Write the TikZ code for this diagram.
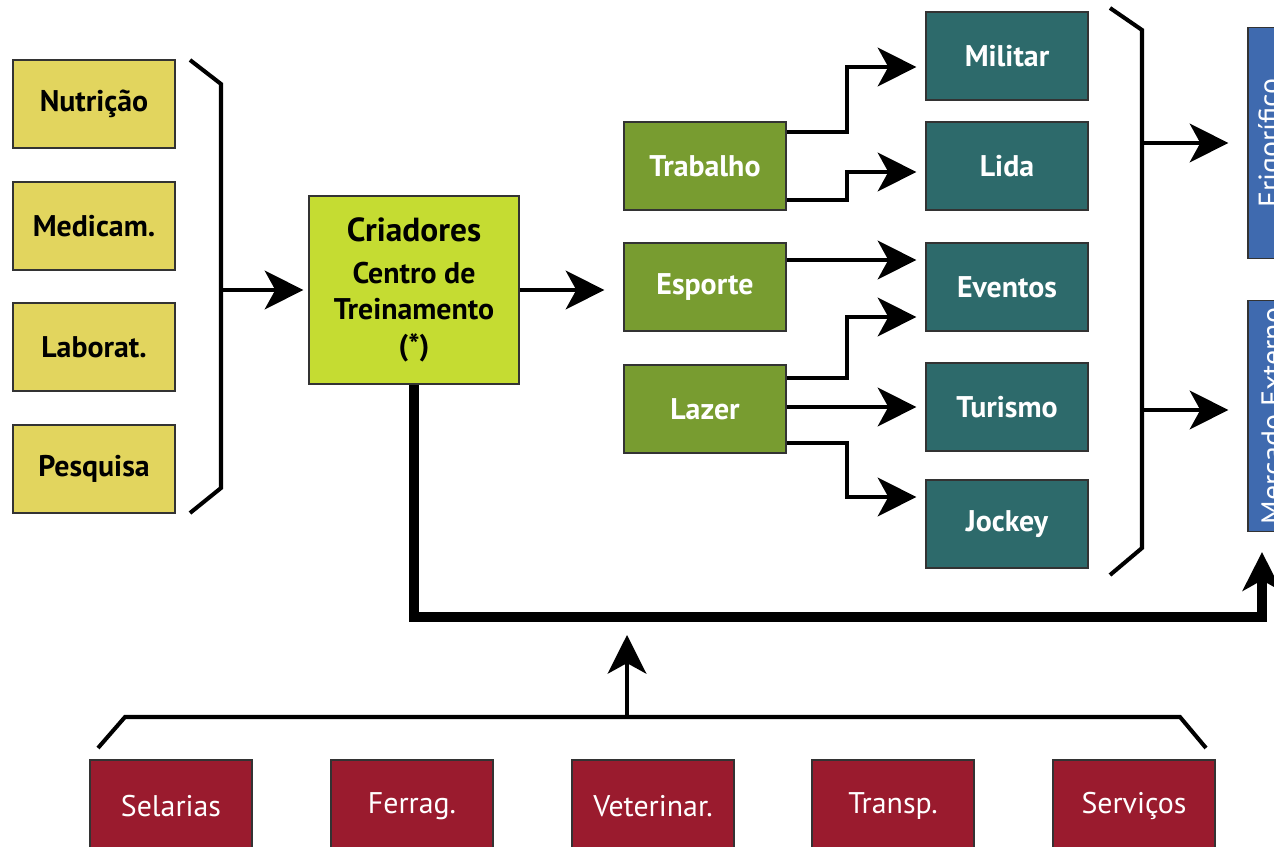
\documentclass[tikz,border=0pt]{standalone}
\usepackage{fontspec}
\setmainfont{PT Sans}
\usetikzlibrary{arrows.meta}
\definecolor{amar}{HTML}{E2D55E}
\definecolor{lima}{HTML}{C5DC32}
\definecolor{verde}{HTML}{789C30}
\definecolor{petro}{HTML}{2D6A6B}
\definecolor{azul}{HTML}{3F6AAF}
\definecolor{vinho}{HTML}{9A1B2E}
\begin{document}
\begin{tikzpicture}[x=0.02cm,y=-0.02cm,>={Stealth[length=22pt,width=22pt,inset=6pt]},
		font=\fontsize{17}{20}\selectfont,
		caixa/.style={draw=black!80,line width=.7pt,minimum width=3.24cm,minimum height=1.76cm,align=center,inner sep=2pt},
		br/.style={line width=2.3pt},
		seta/.style={->,line width=2.3pt}]
	\clip (0,0) rectangle (1274,847);
	%===========================================
	\foreach \t/\y [count=\i] in {Nutrição/104,Medicam./226,Laborat./347,Pesquisa/469}
		\node[caixa,fill=amar,font=\fontsize{17}{20}\selectfont\bfseries] (a\i) at (94,\y) {\t};
	\node[caixa,fill=lima,minimum width=4.2cm,minimum height=3.76cm,font=\fontsize{17}{20.5}\selectfont\bfseries] (crt) at (414,290)
		{{\fontsize{19}{22}\selectfont Criadores}\\[3pt]Centro de\\Treinamento\\(*)};
	\foreach \t/\n/\y in {Trabalho/trab/166,Esporte/esp/287,Lazer/laz/409}
		\node[caixa,fill=verde,text=white,font=\fontsize{17}{20}\selectfont\bfseries] (\n) at (705,\y) {\t};
	\foreach \t/\n/\y in {Militar/mil/56,Lida/lid/166,Eventos/eve/287,Turismo/tur/407,Jockey/joc/524}
		\node[caixa,fill=petro,text=white,font=\fontsize{17}{20}\selectfont\bfseries] (\n) at (1007,\y) {\t};
	\node[caixa,fill=azul,text=white,rotate=90,minimum width=4.62cm,minimum height=.96cm] (frig) at (1272,143) {Frigorífico};
	\node[caixa,fill=azul,text=white,rotate=90,minimum width=4.62cm,minimum height=.96cm] (mex) at (1272,416) {Mercado Externo};
	\foreach \t/\x [count=\i] in {Selarias/171,Ferrag./412,Veterinar./653,Transp./893,Serviços/1134}
		\node[caixa,fill=vinho,text=white,minimum height=1.84cm] (s\i) at (\x,806) {\t};
	%===========================================
	\draw[br] (190,60) -- (221,84) -- (221,488) -- (190,513);
	\draw[br] (1110,8) -- (1142,30) -- (1142,548) -- (1110,575);
	\draw[br] (98,748) -- (125,717) -- (1180,717) -- (1206,748);
	\coordinate (lb) at (221,290);
	\coordinate (rb1) at (1142,143);
	\coordinate (rb2) at (1142,410);
	\coordinate (bb) at (627,717);
	\coordinate (turn) at (1262,617);
	%===========================================
	\draw[seta,shorten >=0.1cm] (lb) -- (crt.west |- lb);
	\draw[seta,shorten >=0.38cm] (crt.east |- 0,290) -- (esp.west |- 0,290);
	\foreach \a/\ya/\b/\yb in {trab/132/mil/67,trab/200/lid/172,esp/260/eve/260,laz/378/eve/317,laz/407/tur/407,laz/443/joc/497}
		\draw[seta,shorten >=0.18cm] (\a.east |- 0,\ya) -| (847,\yb) -- (\b.west |- 0,\yb);
	\draw[seta,shorten >=0.38cm] (rb1) -- (frig.north |- rb1);
	\draw[seta,shorten >=0.38cm] (rb2) -- (mex.north |- rb2);
	\draw[->,line width=5.7pt,shorten >=0.4cm] (crt.south) |- (turn) -- (turn |- mex.west);
	\draw[seta,shorten >=0.36cm] (bb) -- (bb |- turn);
\end{tikzpicture}
\end{document}
